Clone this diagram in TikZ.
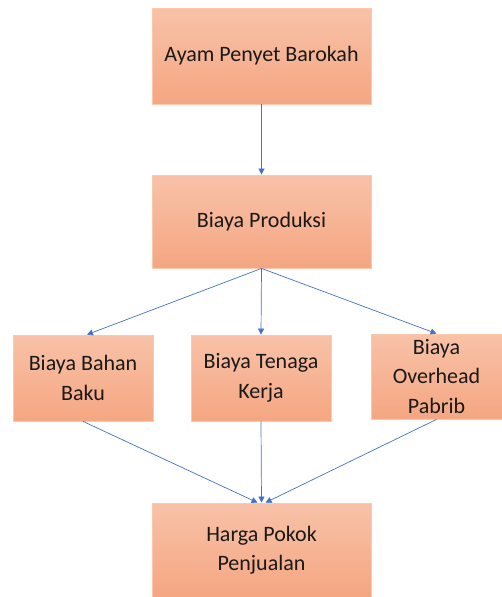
\documentclass[tikz,border=0pt]{standalone}
\usepackage{fontspec}
\setmainfont{Carlito}
\usepackage{tikz}
\usetikzlibrary{arrows.meta}

\definecolor{boxtop}{RGB}{248,194,168}
\definecolor{boxbot}{RGB}{245,166,130}
\definecolor{boxline}{RGB}{250,200,170}
\definecolor{linkblue}{RGB}{68,114,196}

\begin{document}
\begin{tikzpicture}[x=1pt, y=-1pt,
  box/.style={rectangle, draw=boxline, line width=0.8pt, top color=boxtop, bottom color=boxbot,
    align=center, text=black!90, font=\fontsize{22}{29.5}\selectfont, inner sep=0pt},
  link/.style={draw=linkblue, line width=0.7pt, -{Triangle[length=6pt,width=6pt]}}]
\useasboundingbox (0,0) rectangle (502,597);

\node[box, minimum width=219pt, minimum height=96pt](APB) at (261.5,56) {Ayam Penyet Barokah};
\node[box, minimum width=219pt, minimum height=93pt](BP) at (261.5,221.5) {Biaya Produksi};
\node[box, minimum width=140pt, minimum height=86pt](BBB) at (83,378) {Biaya Bahan\\Baku};
\node[box, minimum width=140pt, minimum height=86pt](BTK) at (261,378) {Biaya Tenaga\\Kerja};
\node[box, minimum width=131pt, minimum height=85pt](BOP) at (436.5,376.5) {Biaya\\Overhead\\Pabrib};
\node[box, minimum width=219pt, minimum height=94pt](HPP) at (261.5,550) {Harga Pokok\\Penjualan};

\draw[link](APB) to (BP);
\draw[link](BP.south) to ([xshift=4pt]BBB.north);
\draw[link](BP.south) to (BTK.north);
\draw[link](BP.south) to (BOP.north);
\draw[link](BBB.south) to ([xshift=-4pt]HPP.north);
\draw[link](BTK.south) to (HPP.north);
\draw[link](BOP.south) to ([xshift=4pt]HPP.north);
\end{tikzpicture}
\end{document}
